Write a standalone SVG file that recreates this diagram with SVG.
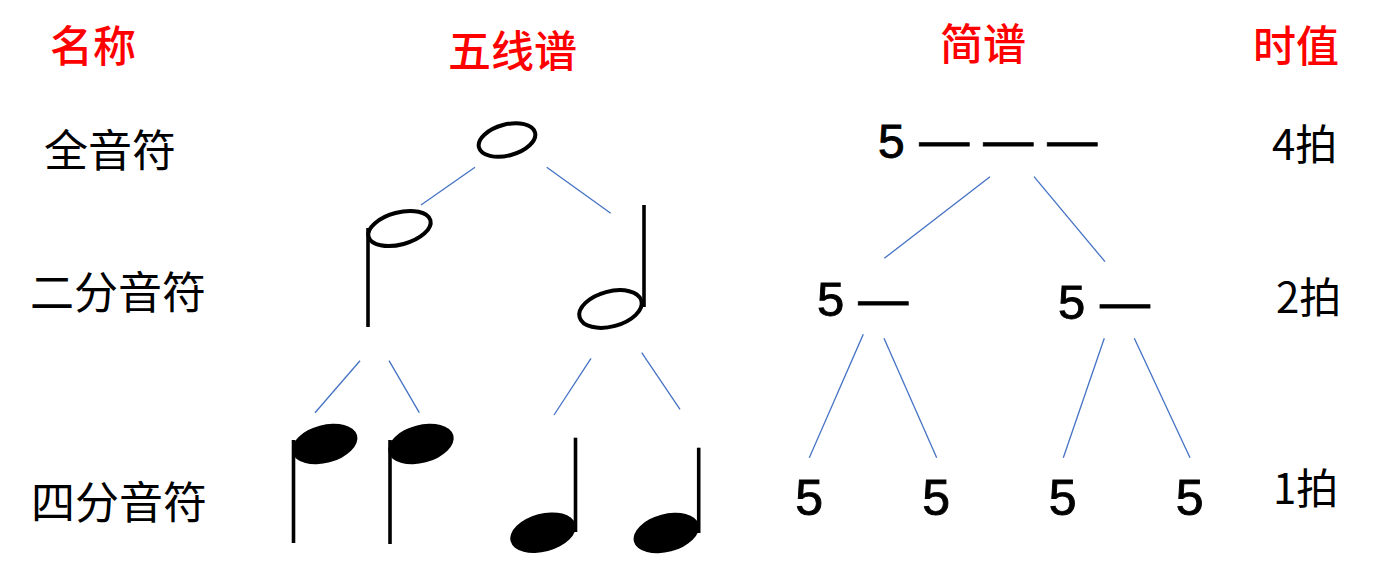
<svg xmlns="http://www.w3.org/2000/svg" width="1374" height="564" viewBox="0 0 1374 564">
<style>
.title{font-family:"Noto Sans CJK SC","Noto Sans CJK TC",sans-serif;font-size:43px;font-weight:500;fill:#ff0000;}
.name{font-family:"Noto Sans CJK SC","Noto Sans CJK TC",sans-serif;font-size:44px;fill:#000;}
.beat{font-family:"Noto Sans CJK SC","Noto Sans CJK TC",sans-serif;font-size:42px;fill:#000;}
.num{font-family:"Liberation Sans",Arial,sans-serif;fill:#000;stroke:#000;stroke-width:0.9;}
.dash{font-family:"Liberation Sans",Arial,sans-serif;font-size:50px;fill:#000;stroke:#000;stroke-width:0.8;}
.conn line{stroke:#4472C4;stroke-width:1.3;fill:none;}
.open{fill:#fff;stroke:#000;stroke-width:4;}
.filled{fill:#000;}
.stem{stroke:#000;stroke-width:3.6;}
</style>

<g id="headers">
<text class="title" x="50" y="62">名称</text>
<text class="title" x="448" y="67">五线谱</text>
<text class="title" x="940" y="60">简谱</text>
<text class="title" x="1253" y="62">时值</text>
</g>

<g id="label-whole"><text class="name" x="44" y="167">全音符</text></g>
<g id="label-half"><text class="name" x="30" y="309">二分音符</text></g>
<g id="label-quarter"><text class="name" x="31" y="519">四分音符</text></g>

<g id="beat-4"><text class="beat" x="1272" y="160">4拍</text></g>
<g id="beat-2"><text class="beat" x="1276" y="313">2拍</text></g>
<g id="beat-1"><text class="beat" x="1273" y="504">1拍</text></g>

<g id="connectors" class="conn">
<line x1="475" y1="167.3" x2="421" y2="205"/>
<line x1="546.7" y1="167.3" x2="610.7" y2="213.3"/>
<line x1="360" y1="360.7" x2="315" y2="412.7"/>
<line x1="389" y1="360.7" x2="419.3" y2="412.7"/>
<line x1="591" y1="358.3" x2="554" y2="415"/>
<line x1="641.7" y1="352.7" x2="680" y2="409.3"/>
<line x1="990" y1="176.7" x2="884.3" y2="258.3"/>
<line x1="1034" y1="176.7" x2="1105" y2="261.7"/>
<line x1="863.3" y1="334.3" x2="809.3" y2="457.7"/>
<line x1="884" y1="338.3" x2="936.7" y2="457.7"/>
<line x1="1104.3" y1="338.3" x2="1063.3" y2="457.7"/>
<line x1="1134.3" y1="338.3" x2="1190" y2="457.7"/>
</g>

<g id="staff-whole">
<ellipse class="open" cx="507" cy="140" rx="29" ry="15.5" transform="rotate(-15 507 140)"/>
</g>
<g id="staff-half-1">
<ellipse class="open" cx="399.5" cy="228.5" rx="32" ry="16" transform="rotate(-15 399.5 228.5)"/>
<line class="stem" x1="368" y1="228" x2="368" y2="327"/>
</g>
<g id="staff-half-2">
<ellipse class="open" cx="610.5" cy="309" rx="32" ry="17.5" transform="rotate(-15 610.5 309)"/>
<line class="stem" x1="644" y1="205" x2="644" y2="307"/>
</g>
<g id="staff-quarter-1">
<ellipse class="filled" cx="324.7" cy="444" rx="33.5" ry="19" transform="rotate(-15 324.7 444)"/>
<line class="stem" x1="293.5" y1="440" x2="293.5" y2="543"/>
</g>
<g id="staff-quarter-2">
<ellipse class="filled" cx="421" cy="444" rx="33.5" ry="19" transform="rotate(-15 421 444)"/>
<line class="stem" x1="390" y1="440" x2="390" y2="544"/>
</g>
<g id="staff-quarter-3">
<ellipse class="filled" cx="543" cy="532.7" rx="33.5" ry="19" transform="rotate(-15 543 532.7)"/>
<line class="stem" x1="575.5" y1="437.7" x2="575.5" y2="532"/>
</g>
<g id="staff-quarter-4">
<ellipse class="filled" cx="666.3" cy="533" rx="33.5" ry="19" transform="rotate(-15 666.3 533)"/>
<line class="stem" x1="698.7" y1="447.7" x2="698.7" y2="533"/>
</g>

<g id="jianpu-whole">
<text class="num" x="878" y="157.5" font-size="48">5</text>
<text class="dash" x="919.3" y="157.1">—</text>
<text class="dash" x="983.3" y="157.1">—</text>
<text class="dash" x="1047.3" y="157.1">—</text>
</g>
<g id="jianpu-half-1">
<text class="num" x="817" y="316" font-size="49">5</text>
<text class="dash" x="858.3" y="316.1">—</text>
</g>
<g id="jianpu-half-2">
<text class="num" x="1058" y="319.3" font-size="49">5</text>
<text class="dash" x="1100" y="318.8">—</text>
</g>
<g id="jianpu-quarter-1"><text class="num" x="795.3" y="515" font-size="50">5</text></g>
<g id="jianpu-quarter-2"><text class="num" x="922.3" y="515" font-size="50">5</text></g>
<g id="jianpu-quarter-3"><text class="num" x="1048.7" y="515" font-size="50">5</text></g>
<g id="jianpu-quarter-4"><text class="num" x="1175.7" y="515" font-size="50">5</text></g>
</svg>
